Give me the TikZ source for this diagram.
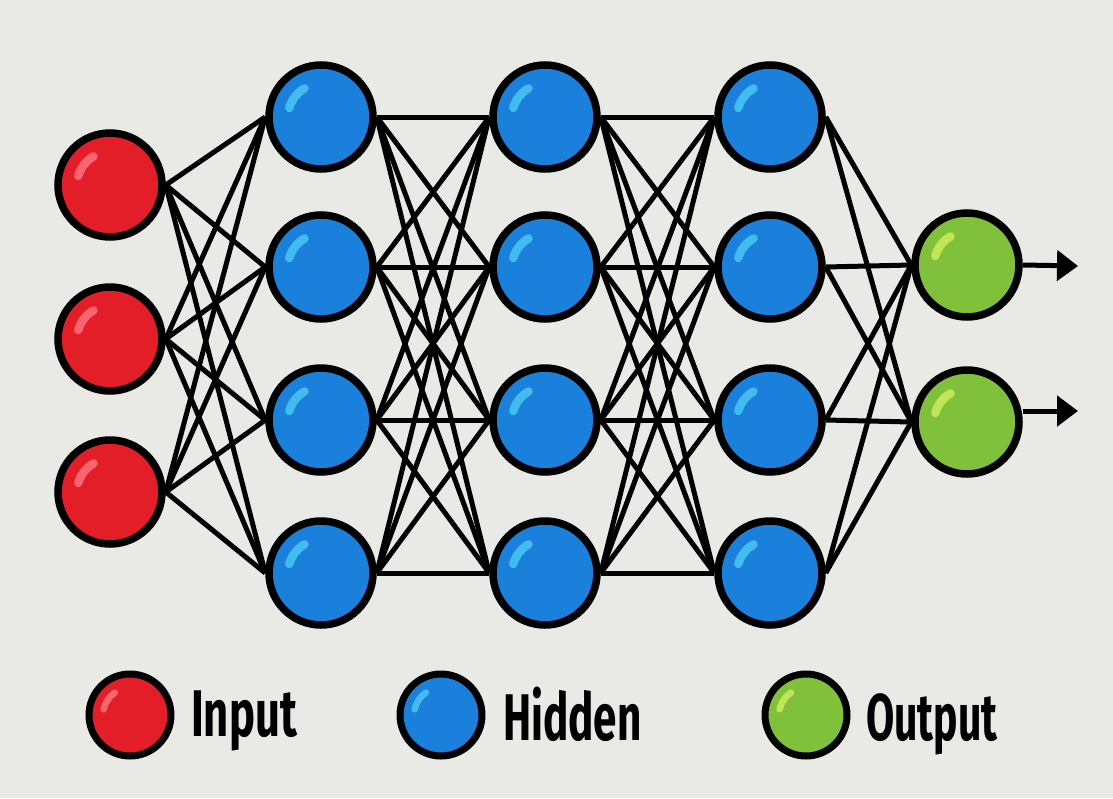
\documentclass[tikz,border=0pt]{standalone}
\usepackage{fontspec}
\setmainfont{Fira Sans}
\usetikzlibrary{arrows.meta,backgrounds}
\definecolor{bg}{RGB}{233,234,229}
\definecolor{nred}{RGB}{228,30,40}
\definecolor{nblue}{RGB}{27,127,220}
\definecolor{ngreen}{RGB}{128,192,58}
\definecolor{hlred}{RGB}{248,100,112}
\definecolor{hlblue}{RGB}{66,188,240}
\definecolor{hlgreen}{RGB}{192,230,86}
\begin{document}
\begin{tikzpicture}[x=1pt,y=-1pt,
  neuron/.style={circle,draw=black,line width=7.5pt,minimum size=104pt,inner sep=0pt},
  legdot/.style={circle,draw=black,line width=7pt,minimum size=82pt,inner sep=0pt},
  inneuron/.style={neuron,fill=nred},
  hidneuron/.style={neuron,fill=nblue},
  outneuron/.style={neuron,fill=ngreen},
  edge/.style={draw=black,line width=5pt},
  outarrow/.style={draw=black,line width=5pt,-{Triangle[length=21pt,width=30pt]}},
  hlstroke/.style={line width=8.5pt,line cap=round},
  legtext/.style={inner sep=0pt,font=\fontsize{66}{70}\selectfont\bfseries,text=black}]
\useasboundingbox (0,0) rectangle (1113,798);
\begin{scope}[on background layer]
  \fill[bg] (0,0) rectangle (1113,798);
\end{scope}
% input layer
\node[inneuron] (i1) at (110,185) {};
\node[inneuron] (i2) at (110,339) {};
\node[inneuron] (i3) at (110,492) {};
% hidden layers
\foreach \y [count=\k] in {117,267,420,573} {
  \node[hidneuron] (a\k) at (321,\y) {};
  \node[hidneuron] (b\k) at (545,\y) {};
  \node[hidneuron] (c\k) at (770,\y) {};
}
% output layer
\node[outneuron] (o1) at (967,265) {};
\node[outneuron] (o2) at (967,422) {};
% highlights
\foreach \n/\c in {i1/hlred,i2/hlred,i3/hlred,
  a1/hlblue,a2/hlblue,a3/hlblue,a4/hlblue,
  b1/hlblue,b2/hlblue,b3/hlblue,b4/hlblue,
  c1/hlblue,c2/hlblue,c3/hlblue,c4/hlblue,
  o1/hlgreen,o2/hlgreen}
  \draw[hlstroke,draw=\c] ([shift={(164:33pt)}]\n.center) arc[start angle=164,end angle=120,radius=33pt];
% connections
\begin{scope}[on background layer]
  \foreach \p in {1,2,3} \foreach \q in {1,...,4} \draw[edge] (i\p.east) -- (a\q.west);
  \foreach \p in {1,...,4} \foreach \q in {1,...,4} {
    \draw[edge] (a\p.east) -- (b\q.west);
    \draw[edge] (b\p.east) -- (c\q.west);
  }
  \foreach \p in {1,...,4} \foreach \q in {1,2} \draw[edge] (c\p.east) -- (o\q.west);
\end{scope}
% output arrows
\coordinate (e1) at (1078,266);
\coordinate (e2) at (1078,411);
\draw[outarrow] (o1.east) -- (e1);
\draw[outarrow] ([yshift=11pt]o2.east) -- (e2);
% legend
\node[legdot,fill=nred] (l1) at (130,715) {};
\node[legdot,fill=nblue] (l2) at (441,715) {};
\node[legdot,fill=ngreen] (l3) at (806,715) {};
\foreach \n/\c in {l1/hlred,l2/hlblue,l3/hlgreen}
  \draw[hlstroke,line width=6.5pt,draw=\c] ([shift={(168:27pt)}]\n.center) arc[start angle=168,end angle=124,radius=27pt];
\node[legtext,anchor=base west] (t1) at (191,736) {\scalebox{0.66}[1]{Input}};
\node[legtext,anchor=base west] (t2) at (503,740) {\scalebox{0.64}[1]{Hidden}};
\node[legtext,anchor=base west] (t3) at (866,740) {\scalebox{0.62}[1]{Output}};
\end{tikzpicture}
\end{document}
